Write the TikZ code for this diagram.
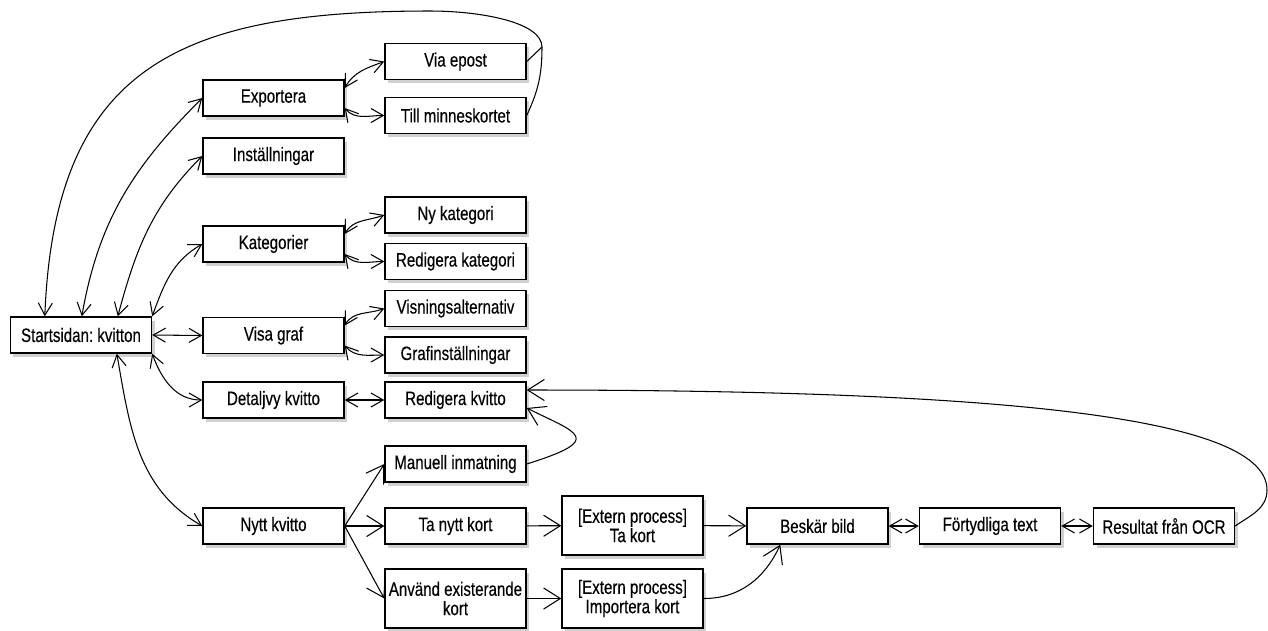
\documentclass[tikz,border=0pt]{standalone}
\usepackage{fontspec}
\setmainfont[FakeStretch=0.78,FakeBold=0.35]{Liberation Sans}
\usepackage{tikz}
\usetikzlibrary{arrows.meta,shadows}
\definecolor{skugga}{RGB}{150,150,150}
\frenchspacing

\begin{document}
\begin{tikzpicture}[
  ruta/.style={draw=black, fill=white, line width=0.8pt, minimum width=2.82cm, minimum height=0.72cm,
    inner sep=1pt, align=center, font=\fontsize{11}{11}\selectfont,
    drop shadow={fill=skugga, opacity=0.45, shadow xshift=0.06cm, shadow yshift=-0.07cm}},
  hog/.style={ruta, minimum height=1.18cm},
  dubbel/.style={line width=0.6pt, {Straight Barb[length=7pt,width=8pt]}-{Straight Barb[length=7pt,width=8pt]}},
  enkel/.style={line width=0.6pt, -{Straight Barb[length=7pt,width=8pt]}},
  stor/.style={line width=0.6pt, -{Straight Barb[length=9.5pt,width=12pt]}}
]
\useasboundingbox (0,0) rectangle (25.36,-12.6);

% rutor
\node[ruta] (start) at (1.62,-6.70) {Startsidan: kvitton};
\node[ruta] (exp) at (5.47,-1.96) {Exportera};
\node[ruta] (inst) at (5.47,-3.12) {Inställningar};
\node[ruta] (kat) at (5.47,-4.88) {Kategorier};
\node[ruta] (graf) at (5.47,-6.71) {Visa graf};
\node[ruta] (detalj) at (5.47,-8.00) {Detaljvy kvitto};
\node[ruta] (nytt) at (5.47,-10.52) {Nytt kvitto};
\node[ruta] (epost) at (9.11,-1.23) {Via epost};
\node[ruta] (minne) at (9.11,-2.31) {Till minneskortet};
\node[ruta] (nykat) at (9.11,-4.30) {Ny kategori};
\node[ruta] (redkat) at (9.11,-5.23) {Redigera kategori};
\node[ruta] (visn) at (9.11,-6.17) {Visningsalternativ};
\node[ruta] (grafinst) at (9.11,-7.10) {Grafinställningar};
\node[ruta] (redkv) at (9.11,-8.00) {Redigera kvitto};
\node[ruta] (manuell) at (9.11,-9.28) {Manuell inmatning};
\node[ruta] (tanytt) at (9.11,-10.52) {Ta nytt kort};
\node[hog] (anvand) at (9.11,-11.97) {Använd existerande\\kort};
\node[hog] (extta) at (12.65,-10.51) {[Extern process]\\Ta kort};
\node[hog] (extimp) at (12.65,-11.97) {[Extern process]\\Importera kort};
\node[ruta] (beskar) at (16.35,-10.52) {Beskär bild};
\node[ruta] (fort) at (19.80,-10.52) {Förtydliga text};
\node[ruta] (res) at (23.28,-10.52) {Resultat från OCR};

% fran startsidan
\draw[dubbel] ([xshift=1.44cm]start.north west) to[out=80,in=-135] (exp.west);
\draw[dubbel] ([xshift=2.16cm]start.north west) to[out=75,in=-135] (inst.west);
\draw[dubbel] (start.north east) to[out=70,in=-150] (kat.west);
\draw[dubbel] (start.east) -- (graf.west);
\draw[dubbel] (start.south east) to[out=-70,in=180] (detalj.west);
\draw[dubbel] ([xshift=2.14cm]start.south west) to[out=-80,in=150] (nytt.west);

% undermenyer
\foreach \a/\b in {exp/epost, kat/nykat, graf/visn}
  \draw[dubbel] ([yshift=0.2cm]\a.east) to[out=60,in=200] (\b.west);
\foreach \a/\b in {exp/minne, kat/redkat, graf/grafinst}
  \draw[dubbel] ([yshift=-0.2cm]\a.east) to[out=-50,in=180] (\b.west);
\draw[dubbel] (detalj.east) -- (redkv.west);

% tillbaka till startsidan
\coordinate (knut) at (10.84,-0.94);
\coordinate (topp) at (8.6,-0.22);
\draw[line width=0.6pt] (epost.east) -- (knut);
\draw[enkel] (minne.east) to[out=65,in=-90] (knut) .. controls +(0,0.5) and +(1.0,0) .. (topp)
  .. controls +(-5,0) and +(0.2,5) .. ([xshift=0.7cm]start.north west);

% nytt kvitto
\foreach \m in {manuell, tanytt, anvand}
  \draw[stor] (nytt.east) -- (\m.west);
\draw[stor] (tanytt) -- (extta);
\draw[stor] (extta) -- (beskar);
\draw[stor] (anvand) -- (extimp);
\draw[stor] (extimp.east) to[out=0,in=-115] ([xshift=0.68cm]beskar.south west);
\draw[dubbel] (beskar) -- (fort);
\draw[dubbel] (fort) -- (res);
\draw[stor] (manuell.east) .. controls +(1.6,0.5) and +(1.0,-0.5) .. ([yshift=-0.16cm]redkv.east);
\coordinate (hoger) at (25.34,-9.80);
\draw[stor] (res.east) to[out=35,in=-90] (hoger) .. controls +(0,1.4) and +(10,0) .. ([yshift=0.2cm]redkv.east);
\end{tikzpicture}
\end{document}
